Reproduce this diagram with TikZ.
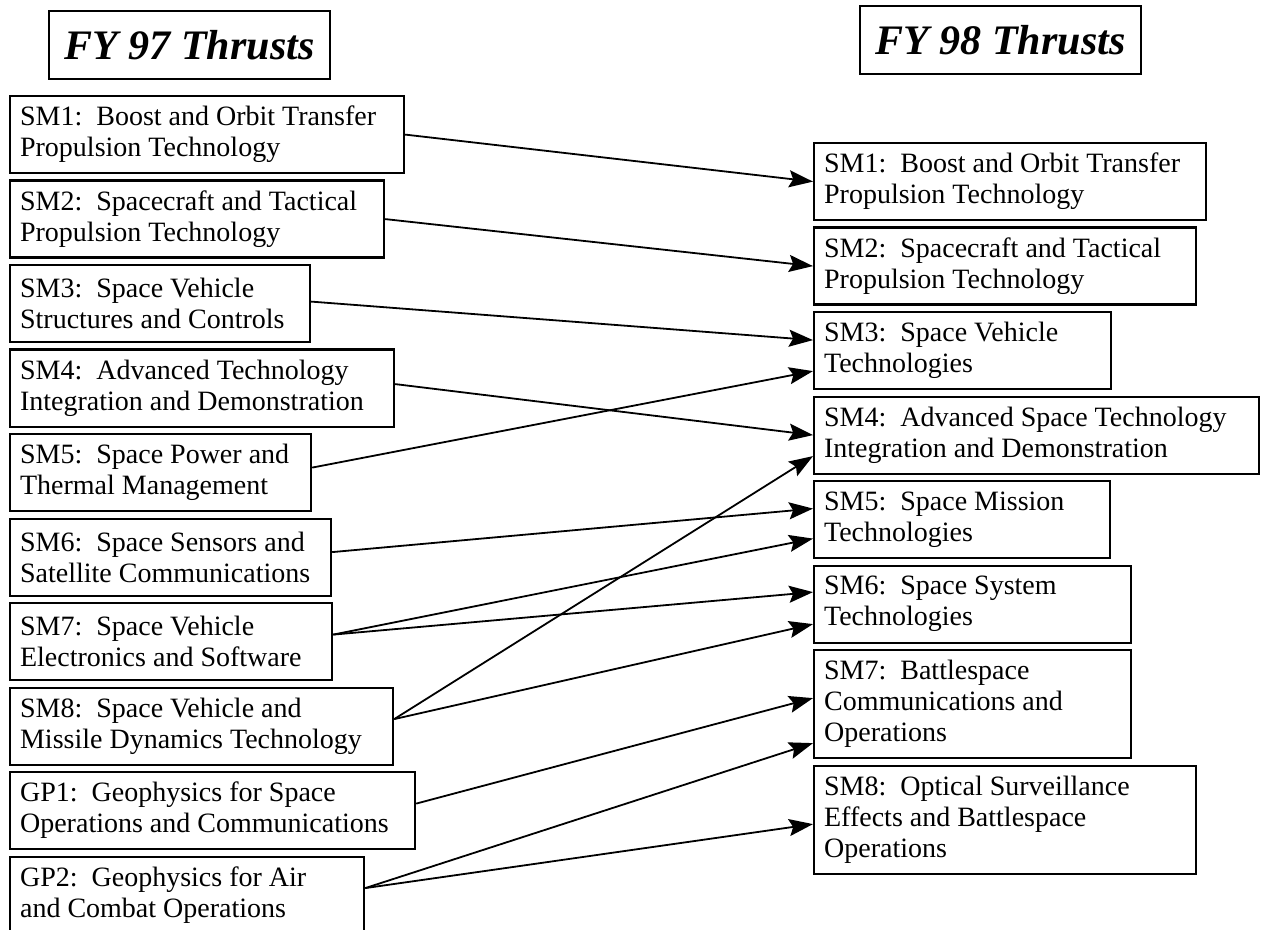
\documentclass[tikz,border=0pt]{standalone}
\usepackage{fontspec}
\setmainfont{Liberation Serif}
\usetikzlibrary{arrows.meta,positioning}

\begin{document}
\begin{tikzpicture}[x=0.5pt,y=-0.5pt,node distance=2.65pt,
    thrust/.style={draw,line width=1.1pt,align=flush left,anchor=north west,inner xsep=5pt,inner ysep=2pt,minimum height=38.5pt,font=\fontsize{14}{15.5}\selectfont},
    thrust3/.style={thrust,minimum height=54pt},
    yearbox/.style={draw,line width=1.1pt,minimum width=140.5pt,minimum height=34pt,font=\fontsize{21}{24}\selectfont\bfseries\itshape},
    thrustarrow/.style={-{Stealth[length=12pt,width=8.5pt,inset=2pt]},line width=0.9pt}]
    \useasboundingbox[fill=white] (0,0) rectangle (1262,930);
    % FY 97 thrusts
    \node[yearbox] (title97) at (189.5,45) {FY 97 Thrusts};
    \node[thrust,text width=187pt] (osm1) at (9,95) {SM1:\ \ Boost and Orbit Transfer\\Propulsion Technology};
    \node[thrust,below=of osm1.south west,anchor=north west,text width=177pt] (osm2) {SM2:\ \ Spacecraft and Tactical\\Propulsion Technology};
    \node[thrust,below=of osm2.south west,anchor=north west,text width=140pt] (osm3) {SM3:\ \ Space Vehicle\\Structures and Controls};
    \node[thrust,below=of osm3.south west,anchor=north west,text width=182pt] (osm4) {SM4:\ \ Advanced Technology\\Integration and Demonstration};
    \node[thrust,below=of osm4.south west,anchor=north west,text width=140.5pt] (osm5) {SM5:\ \ Space Power and\\Thermal Management};
    \node[thrust,below=of osm5.south west,anchor=north west,text width=150.5pt] (osm6) {SM6:\ \ Space Sensors and\\Satellite Communications};
    \node[thrust,below=of osm6.south west,anchor=north west,text width=151pt] (osm7) {SM7:\ \ Space Vehicle\\Electronics and Software};
    \node[thrust,below=of osm7.south west,anchor=north west,text width=181.5pt] (osm8) {SM8:\ \ Space Vehicle and\\Missile Dynamics Technology};
    \node[thrust,below=of osm8.south west,anchor=north west,text width=192.5pt] (ogp1) {GP1:\ \ Geophysics for Space\\Operations and Communications};
    \node[thrust,below=of ogp1.south west,anchor=north west,text width=167pt] (ogp2) {GP2:\ \ Geophysics for Air\\and Combat Operations};
    % FY 98 thrusts
    \node[yearbox] (title98) at (1000.5,40) {FY 98 Thrusts};
    \node[thrust,text width=186pt] (nsm1) at (813,142) {SM1:\ \ Boost and Orbit Transfer\\Propulsion Technology};
    \node[thrust,below=of nsm1.south west,anchor=north west,text width=181pt] (nsm2) {SM2:\ \ Spacecraft and Tactical\\Propulsion Technology};
    \node[thrust,below=of nsm2.south west,anchor=north west,text width=138.5pt] (nsm3) {SM3:\ \ Space Vehicle\\Technologies};
    \node[thrust,below=of nsm3.south west,anchor=north west,text width=212.5pt] (nsm4) {SM4:\ \ Advanced Space Technology\\Integration and Demonstration};
    \node[thrust,below=of nsm4.south west,anchor=north west,text width=138pt] (nsm5) {SM5:\ \ Space Mission\\Technologies};
    \node[thrust,below=of nsm5.south west,anchor=north west,text width=148.5pt] (nsm6) {SM6:\ \ Space System\\Technologies};
    \node[thrust3,below=of nsm6.south west,anchor=north west,text width=148.5pt] (nsm7) {SM7:\ \ Battlespace\\Communications and\\Operations};
    \node[thrust3,below=of nsm7.south west,anchor=north west,text width=181pt] (nsm8) {SM8:\ \ Optical Surveillance\\Effects and Battlespace\\Operations};
    % old to new mapping
    \draw[thrustarrow] (osm1.east) -- (nsm1.west);
    \draw[thrustarrow] (osm2.east) -- (nsm2.west);
    \draw[thrustarrow] ([yshift=1pt]osm3.east) -- ([yshift=5.25pt]nsm3.west);
    \draw[thrustarrow] ([yshift=2pt]osm4.east) -- (nsm4.west);
    \draw[thrustarrow] ([yshift=2.5pt]osm5.east) -- ([yshift=-10.25pt]nsm3.west);
    \draw[thrustarrow] ([yshift=2.5pt]osm6.east) -- ([yshift=5.5pt]nsm5.west);
    \draw[thrustarrow] ([yshift=3.5pt]osm7.east) -- ([yshift=-9.5pt]nsm5.west);
    \draw[thrustarrow] ([yshift=3.5pt]osm7.east) -- ([yshift=6pt]nsm6.west);
    \draw[thrustarrow] ([yshift=3.5pt]osm8.east) -- ([yshift=-10.5pt]nsm4.west);
    \draw[thrustarrow] ([yshift=3.5pt]osm8.east) -- ([yshift=-10pt]nsm6.west);
    \draw[thrustarrow] ([yshift=3.5pt]ogp1.east) -- ([yshift=3pt]nsm7.west);
    \draw[thrustarrow] ([yshift=3.5pt]ogp2.east) -- ([yshift=-19.5pt]nsm7.west);
    \draw[thrustarrow] ([yshift=3.5pt]ogp2.east) -- ([yshift=-2.25pt]nsm8.west);
\end{tikzpicture}
\end{document}
